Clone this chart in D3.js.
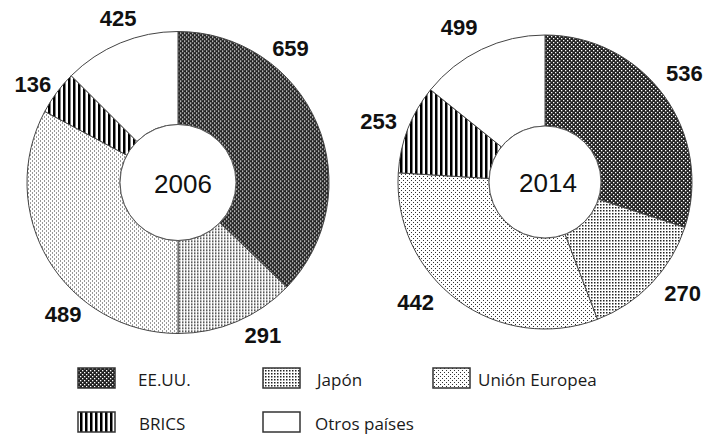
<!DOCTYPE html>
<meta charset="utf-8">
<head>
<style>
body { margin: 0; background: #fff; }
.slice { stroke: #444; stroke-width: 1; }
.val { font-family: "Liberation Sans", Arial, sans-serif; font-weight: bold; font-size: 22px; fill: #111; }
.year { font-family: "Liberation Sans", Arial, sans-serif; font-size: 26px; fill: #111; }
.leg { font-family: "Open Sans", sans-serif; font-size: 17px; fill: #1a1a1a; }
</style>
</head>
<body>
<svg width="705" height="435"></svg>
<script src="https://cdn.jsdelivr.net/npm/d3@7"></script>
<script>

// data
var categories = ["EE.UU.", "Japón", "Unión Europea", "BRICS", "Otros países"];
var years = ["2006", "2014"];
var values2006 = [659, 291, 489, 136, 425];
var values2014 = [536, 270, 442, 253, 499];
// size of each slice as it is drawn (% of the ring)
var share2006 = [37.2, 12.8, 32.8, 4.7, 12.5];
var share2014 = [30.0, 14.2, 31.8, 9.8, 14.2];

var svg = d3.select("svg");
var defs = svg.append("defs");

// fill patterns, one per category
var pEE = defs.append("pattern").attr("id", "p0")
    .attr("patternUnits", "userSpaceOnUse").attr("width", 4).attr("height", 4);
pEE.append("rect").attr("width", 4).attr("height", 4).attr("fill", "#222");
pEE.append("rect").attr("x", 0).attr("y", 0).attr("width", 1.3).attr("height", 1.3).attr("fill", "#fff");
pEE.append("rect").attr("x", 2).attr("y", 2).attr("width", 1.3).attr("height", 1.3).attr("fill", "#fff");

var pJP = defs.append("pattern").attr("id", "p1")
    .attr("patternUnits", "userSpaceOnUse").attr("width", 3).attr("height", 3);
pJP.append("rect").attr("width", 3).attr("height", 3).attr("fill", "#fff");
pJP.append("rect").attr("x", 1).attr("y", 1).attr("width", 1.5).attr("height", 1.5).attr("fill", "#222");

var pUE = defs.append("pattern").attr("id", "p2")
    .attr("patternUnits", "userSpaceOnUse").attr("width", 4).attr("height", 4);
pUE.append("rect").attr("width", 4).attr("height", 4).attr("fill", "#fff");
pUE.append("rect").attr("x", 0).attr("y", 0).attr("width", 1).attr("height", 1).attr("fill", "#333");
pUE.append("rect").attr("x", 2).attr("y", 2).attr("width", 1).attr("height", 1).attr("fill", "#333");

var pBR = defs.append("pattern").attr("id", "p3")
    .attr("patternUnits", "userSpaceOnUse").attr("width", 5).attr("height", 5);
pBR.append("rect").attr("width", 5).attr("height", 5).attr("fill", "#fff");
pBR.append("rect").attr("x", 0).attr("y", 0).attr("width", 2.5).attr("height", 5).attr("fill", "#000");

var fills = ["url(#p0)", "url(#p1)", "url(#p2)", "url(#p3)", "#fff"];

var pie = d3.pie().sort(null).value(function(d) { return d.share; });

// layout for the two rings
var rings = [
  { year: years[0], values: values2006, share: share2006, cx: 178, cy: 182.5, r: 151, r0: 58,
    labelR: 175, labelDeg: [40, 151, 221, 304, 340], yearDx: 5 },
  { year: years[1], values: values2014, share: share2014, cx: 545, cy: 182, r: 147, r0: 56,
    labelR: 177, labelDeg: [52, 129, 227, 290, 331], yearDx: 3 }
];

rings.forEach(function(ring) {
  var rows = categories.map(function(c, i) {
    return { cat: c, i: i, value: ring.values[i], share: ring.share[i] };
  });
  var arc = d3.arc().innerRadius(ring.r0).outerRadius(ring.r);
  var g = svg.append("g").attr("transform", "translate(" + ring.cx + "," + ring.cy + ")");

  g.selectAll("path")
    .data(pie(rows))
    .enter().append("path")
      .attr("class", "slice")
      .attr("d", arc)
      .attr("fill", function(d) { return fills[d.data.i]; });

  g.append("circle").attr("r", ring.r0).attr("fill", "#fff").attr("stroke", "#555").attr("stroke-width", 1);

  g.append("text")
    .attr("class", "year")
    .attr("x", ring.yearDx).attr("y", 1)
    .attr("text-anchor", "middle")
    .attr("dominant-baseline", "central")
    .text(ring.year);

  g.selectAll(".val")
    .data(rows)
    .enter().append("text")
      .attr("class", "val")
      .attr("text-anchor", "middle")
      .attr("dominant-baseline", "central")
      .attr("x", function(d) { return ring.labelR * Math.sin(ring.labelDeg[d.i] * Math.PI / 180); })
      .attr("y", function(d) { return -ring.labelR * Math.cos(ring.labelDeg[d.i] * Math.PI / 180); })
      .text(function(d) { return d.value; });
});

// legend
var legBoxX = [78, 263, 433, 78, 263],
    legTextX = [138, 317, 478, 139, 315],
    legRowY = [368, 368, 368, 412, 412];

var leg = svg.append("g").selectAll("g")
  .data(categories)
  .enter().append("g");

leg.append("rect")
  .attr("x", function(d, i) { return legBoxX[i]; })
  .attr("y", function(d, i) { return legRowY[i]; })
  .attr("width", 37).attr("height", 20)
  .attr("fill", function(d, i) { return fills[i]; })
  .attr("stroke", "#333").attr("stroke-width", 1.5);

leg.append("text")
  .attr("class", "leg")
  .attr("x", function(d, i) { return legTextX[i]; })
  .attr("y", function(d, i) { return legRowY[i] + 18; })
  .text(function(d) { return d; });

</script>
</body>
